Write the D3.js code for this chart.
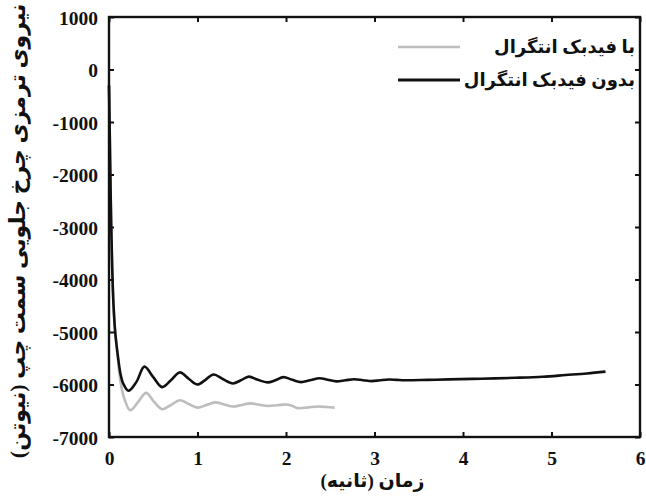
<!DOCTYPE html>
<html>
<head>
<meta charset="utf-8">
<script src="https://cdn.jsdelivr.net/npm/d3@7"></script>
<style>
  html, body { margin: 0; padding: 0; background: #fff; }
  svg { display: block; }
</style>
</head>
<body>
<svg id="chart" width="646" height="500"></svg>
<script>
// ---- data ----
const xTicks = [0, 1, 2, 3, 4, 5, 6];
const xTickLabels = ["0", "1", "2", "3", "4", "5", "6"];
const yTicks = [1000, 0, -1000, -2000, -3000, -4000, -5000, -6000, -7000];
const yTickLabels = ["1000", "0", "-1000", "-2000", "-3000", "-4000", "-5000", "-6000", "-7000"];

// without integral feedback (black)
const blackT = [0, 0.01, 0.02, 0.035, 0.05, 0.07, 0.1, 0.13, 0.16, 0.22, 0.31, 0.40, 0.50, 0.60, 0.70, 0.80, 0.90, 1.0, 1.09, 1.18, 1.29, 1.40, 1.49, 1.58, 1.68, 1.79, 1.88, 1.97, 2.07, 2.17, 2.27, 2.38, 2.47, 2.57, 2.67, 2.77, 2.87, 2.97, 3.06, 3.16, 3.25, 3.34, 3.6, 3.84, 4.2, 4.59, 4.9, 5.16, 5.4, 5.61];
const blackV = [-300, -1400, -2500, -3700, -4450, -5000, -5450, -5800, -5980, -6120, -5950, -5660, -5860, -6050, -5920, -5770, -5890, -6000, -5910, -5810, -5900, -5980, -5920, -5850, -5910, -5960, -5920, -5860, -5910, -5955, -5920, -5880, -5910, -5940, -5920, -5900, -5918, -5935, -5920, -5905, -5912, -5920, -5912, -5902, -5890, -5872, -5852, -5820, -5790, -5755];

// with integral feedback (gray)
const grayT = [0, 0.01, 0.02, 0.035, 0.05, 0.07, 0.1, 0.13, 0.17, 0.24, 0.33, 0.42, 0.51, 0.60, 0.70, 0.80, 0.90, 1.0, 1.10, 1.20, 1.30, 1.40, 1.50, 1.60, 1.70, 1.80, 1.90, 2.0, 2.06, 2.13, 2.25, 2.36, 2.46, 2.55];
const grayV = [-300, -1400, -2500, -3700, -4450, -5000, -5500, -5950, -6250, -6490, -6330, -6160, -6330, -6470, -6390, -6300, -6370, -6440, -6390, -6340, -6380, -6420, -6390, -6360, -6385, -6410, -6395, -6380, -6400, -6450, -6435, -6420, -6430, -6440];

const legendLabels = ["با فیدبک انتگرال", "بدون فیدبک انتگرال"];
const legendColors = ["#bdbdbd", "#111111"];
const xTitle = "زمان (ثانیه)";
const yTitle = "نیروی ترمزی چرخ جلویی سمت چپ (نیوتن)";

// ---- layout ----
const svg = d3.select("#chart");
const L = 109, R = 640, T = 17, B = 437;
const x = d3.scaleLinear().domain([0, 6]).range([L, R]);
const y = d3.scaleLinear().domain([-7000, 1000]).range([B, T]);

const line = d3.line().x(d => x(d[0])).y(d => y(d[1])).curve(d3.curveCatmullRom.alpha(0.5));

const grayData = grayT.map((t, i) => [t, grayV[i]]);
const blackData = blackT.map((t, i) => [t, blackV[i]]);

svg.append("path").datum(grayData).attr("d", line)
  .attr("fill", "none").attr("stroke", legendColors[0]).attr("stroke-width", 2.6);
svg.append("path").datum(blackData).attr("d", line)
  .attr("fill", "none").attr("stroke", legendColors[1]).attr("stroke-width", 2.6);

// axes with inward ticks
const tickLen = 5;
const axB = svg.append("g").attr("transform", `translate(0,${B})`)
  .call(d3.axisBottom(x).tickValues(xTicks).tickSize(-tickLen).tickFormat((d, i) => xTickLabels[i]));
const axT = svg.append("g").attr("transform", `translate(0,${T})`)
  .call(d3.axisTop(x).tickValues(xTicks).tickSize(-tickLen).tickFormat(""));
const axL = svg.append("g").attr("transform", `translate(${L},0)`)
  .call(d3.axisLeft(y).tickValues(yTicks).tickSize(-tickLen).tickFormat((d, i) => yTickLabels[i]));
const axR = svg.append("g").attr("transform", `translate(${R},0)`)
  .call(d3.axisRight(y).tickValues(yTicks).tickSize(-tickLen).tickFormat(""));

[axB, axT, axL, axR].forEach(g => {
  g.attr("font-family", "'Liberation Serif', 'Times New Roman', serif")
   .attr("font-size", 19.5).attr("font-weight", "bold");
  g.select(".domain").remove();
  g.selectAll(".tick line").attr("stroke", "#111").attr("stroke-width", 2);
  g.selectAll(".tick text").attr("fill", "#111");
});
axB.selectAll(".tick text").attr("dy", null).attr("y", 28);
axL.selectAll(".tick text").attr("x", -11).attr("dy", "0.38em");

// frame
svg.append("rect").attr("x", L).attr("y", T).attr("width", R - L).attr("height", B - T)
  .attr("fill", "none").attr("stroke", "#111").attr("stroke-width", 2.4);

// legend
const faFont = "'Times New Roman', 'Liberation Serif', 'DejaVu Sans', serif";
const legY = [47, 80];
legendLabels.forEach((lab, i) => {
  svg.append("line").attr("x1", 398).attr("x2", 460).attr("y1", legY[i]).attr("y2", legY[i])
    .attr("stroke", legendColors[i]).attr("stroke-width", i === 0 ? 2.6 : 3);
  svg.append("text").attr("x", 635).attr("y", legY[i]).attr("dy", "0.35em")
    .style("direction", "rtl").attr("text-anchor", "start")
    .attr("font-family", faFont).attr("font-size", 18).attr("font-weight", "bold").attr("fill", "#111")
    .text(lab);
});

// titles
svg.append("text").attr("x", (L + R) / 2 - 2).attr("y", 487)
  .attr("font-family", faFont).attr("fill", "#111")
  .attr("text-anchor", "middle").attr("font-size", 19).attr("font-weight", "bold").text(xTitle);
svg.append("text")
  .attr("transform", `translate(25,${(T + B) / 2 + 4}) rotate(-90)`)
  .attr("font-family", faFont).attr("fill", "#111")
  .attr("text-anchor", "middle").attr("font-size", 22).attr("font-weight", "bold").text(yTitle);
</script>
</body>
</html>
